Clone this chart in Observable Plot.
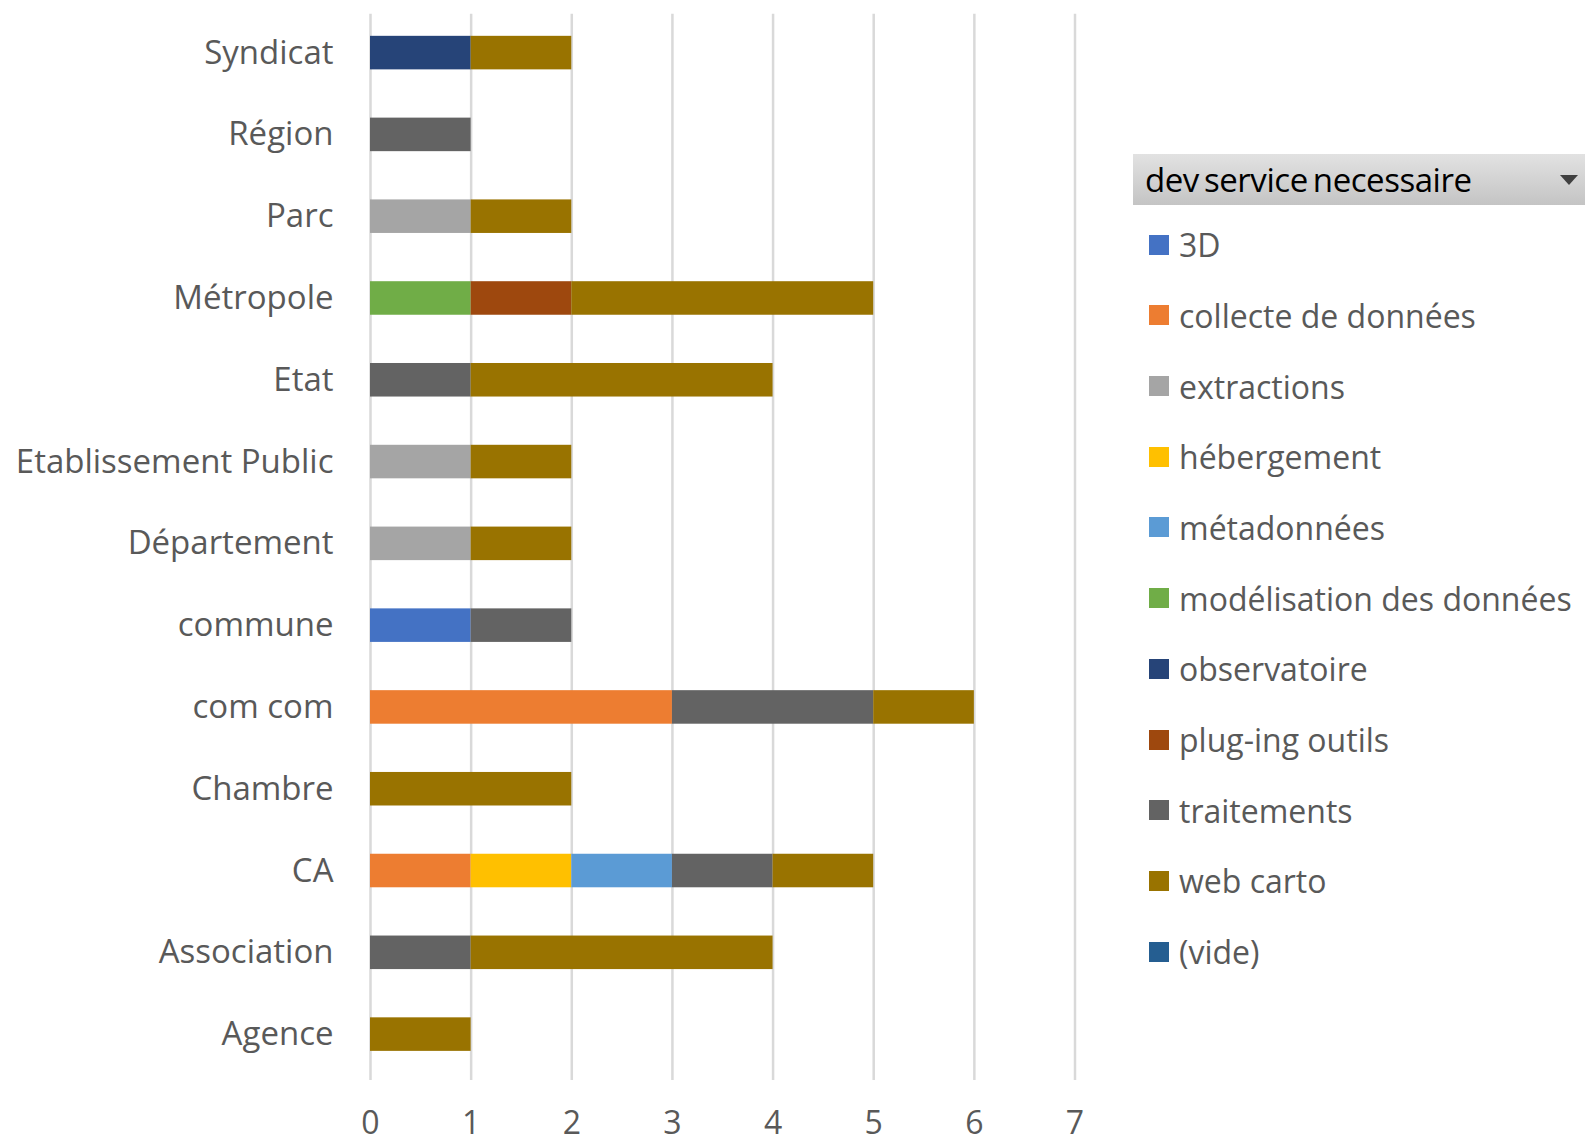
<!DOCTYPE html>
<html>
<head>
<meta charset="utf-8">
<script src="https://cdn.jsdelivr.net/npm/d3@7"></script>
<script src="https://cdn.jsdelivr.net/npm/@observablehq/plot@0.6"></script>
<style>
  html, body { margin: 0; padding: 0; background: #fff; overflow: hidden; }
  #wrap { position: relative; width: 1585px; height: 1138px; overflow: hidden; font-family: "Open Sans", Lato, sans-serif; }
  #chart { position: absolute; left: 0; top: 0; }
  #legend { position: absolute; left: 1133px; top: 154px; width: 452px; }
  #legend .hdr { height: 51px; background: linear-gradient(#e2e2e2, #c4c4c4); position: relative; }
  #legend .hdr span { position: absolute; left: 12px; top: 3px; font-size: 33px; color: #000; word-spacing: -3px; letter-spacing: -0.45px; }
  #legend .hdr .tri { position: absolute; right: 7px; top: 21px; width: 0; height: 0; border-left: 9px solid transparent; border-right: 9px solid transparent; border-top: 10px solid #404040; }
  #legend .item { position: absolute; left: 16px; height: 40px; display: flex; align-items: center; font-size: 32px; color: #595959; white-space: nowrap; }
  #legend .sw { width: 20px; height: 20px; margin-right: 10px; flex: none; }
</style>
</head>
<body>
<div id="wrap">
  <div id="chart"></div>
  <div id="legend"><div class="hdr"><span>dev service necessaire</span><div class="tri"></div></div></div>
</div>
<script>
const categories = ["Syndicat", "Région", "Parc", "Métropole", "Etat", "Etablissement Public", "Département", "commune", "com com", "Chambre", "CA", "Association", "Agence"];
const series = ["3D", "collecte de données", "extractions", "hébergement", "métadonnées", "modélisation des données", "observatoire", "plug-ing outils", "traitements", "web carto", "(vide)"];
const colors = ["#4472C4", "#ED7D31", "#A5A5A5", "#FFC000", "#5B9BD5", "#70AD47", "#264478", "#9E480E", "#636363", "#997300", "#255E91"];
const xTicks = [0, 1, 2, 3, 4, 5, 6, 7];

// values per category, in series order
const Syndicat      = [0,0,0,0,0,0,1,0,0,1,0];
const Region        = [0,0,0,0,0,0,0,0,1,0,0];
const Parc          = [0,0,1,0,0,0,0,0,0,1,0];
const Metropole     = [0,0,0,0,0,1,0,1,0,3,0];
const Etat          = [0,0,0,0,0,0,0,0,1,3,0];
const EtabPublic    = [0,0,1,0,0,0,0,0,0,1,0];
const Departement   = [0,0,1,0,0,0,0,0,0,1,0];
const commune       = [1,0,0,0,0,0,0,0,1,0,0];
const comcom        = [0,3,0,0,0,0,0,0,2,1,0];
const Chambre       = [0,0,0,0,0,0,0,0,0,2,0];
const CA            = [0,1,0,1,1,0,0,0,1,1,0];
const Association   = [0,0,0,0,0,0,0,0,1,3,0];
const Agence        = [0,0,0,0,0,0,0,0,0,1,0];

const rows = [Syndicat, Region, Parc, Metropole, Etat, EtabPublic, Departement, commune, comcom, Chambre, CA, Association, Agence];
const data = [];
rows.forEach((r, i) => r.forEach((v, j) => { if (v > 0) data.push({cat: categories[i], serie: series[j], value: v}); }));

const chart = Plot.plot({
  width: 1100,
  height: 1138,
  marginLeft: 370,
  marginRight: 25.5,
  marginTop: 11.7,
  marginBottom: 63,
  style: {fontFamily: "'Open Sans', Lato, sans-serif", fontSize: "33px", color: "#595959", background: "transparent", overflow: "visible"},
  x: {domain: [0, 7], label: null},
  y: {domain: categories, paddingInner: 0.59, paddingOuter: 0.295, round: false, label: null},
  color: {domain: series, range: colors},
  marks: [
    Plot.ruleX(xTicks, {stroke: "#d9d9d9", strokeWidth: 2.5, insetTop: 2, insetBottom: -5}),
    Plot.barX(data, Plot.stackX({x: "value", y: "cat", fill: "serie", order: series})),
    Plot.axisX({ticks: xTicks, tickFormat: d3.format("d"), tickSize: 0, tickPadding: 36, fill: "#595959", fontSize: 32, label: null}),
    Plot.axisY({tickSize: 0, tickPadding: 37, fill: "#595959", fontSize: 33, label: null})
  ]
});
document.getElementById("chart").appendChild(chart);

const legend = document.getElementById("legend");
series.forEach((s, i) => {
  const it = document.createElement("div");
  it.className = "item";
  it.style.top = (90.6 + i * 70.7 - 20) + "px";
  const sw = document.createElement("div");
  sw.className = "sw";
  sw.style.background = colors[i];
  const t = document.createElement("span");
  t.textContent = s;
  it.appendChild(sw);
  it.appendChild(t);
  legend.appendChild(it);
});
</script>
</body>
</html>
